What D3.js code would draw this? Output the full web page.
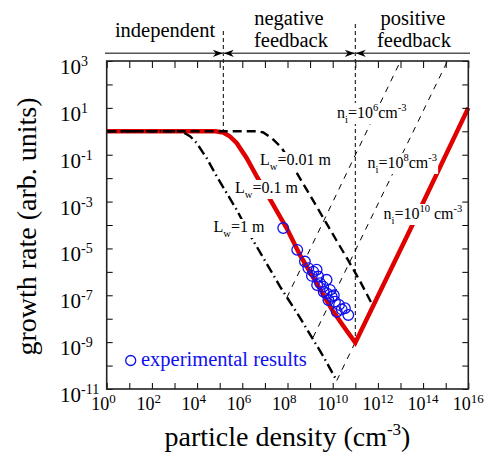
<!DOCTYPE html>
<html><head><meta charset="utf-8">
<script src="https://cdn.jsdelivr.net/npm/d3@7"></script>
<style>
body{margin:0;background:#fff}
svg{display:block}
text{font-family:"Liberation Serif","Times New Roman",serif;fill:#000}
</style>
</head><body>
<svg id="c" width="492" height="458"></svg>
<script>
// ---------- data (log10 values) ----------
const xTickExps  = d3.range(0, 17);            // 10^0 .. 10^16
const xLabelExps = [0, 2, 4, 6, 8, 10, 12, 14, 16];
const yTickExps  = d3.range(-11, 4);            // 10^-11 .. 10^3
const yLabelExps = [3, 1, -1, -3, -5, -7, -9, -11];

// thick red curve (L_w = 0.1 m combined with n_i = 10^10)
const redLogN = [0, 4.8, 5.16, 5.45, 5.75, 6.19, 6.64, 7.30, 8.0, 8.56, 9.3, 9.96, 10.5, 11.0, 13.5, 16.0];
const redLogG = [0, 0, -0.05, -0.22, -0.5, -1.14, -1.93, -3.02, -4.2, -5.3, -6.5, -7.6, -8.35, -9.02, -4.05, 1.0];

// L_w = 0.01 m (dashed)
const lw001LogN = [0, 6.7, 6.93, 7.30, 7.74, 8.41, 9.13, 9.66, 10.15, 10.65, 11.2, 11.75];
const lw001LogG = [0, 0, -0.05, -0.29, -0.7, -1.78, -2.95, -3.82, -4.63, -5.45, -6.38, -7.4];

// L_w = 1 m (dash-dot)
const lw1LogN = [0, 3.2, 3.39, 3.7, 3.98, 4.42, 4.87, 5.75, 6.42, 7.67, 8.55, 9.58, 10.18];
const lw1LogG = [0, 0, -0.05, -0.22, -0.5, -1.14, -1.93, -3.35, -4.56, -6.63, -7.95, -9.6, -10.65];

// n_i positive-feedback lines (thin dashed)
const ni6LogN  = [7.97, 13.0];  const ni6LogG  = [-7.1, 3.0];
const ni8LogN  = [9.13, 15.08]; const ni8LogG  = [-8.8, 3.0];
const ni10LogN = [10.18, 16.0]; const ni10LogG = [-10.64, 1.0];

// experimental results (open circles)
const expLogN = [7.81, 8.43, 8.77, 8.92, 9.14, 9.29, 9.08, 9.36, 9.73, 9.44, 9.58, 9.31, 9.88, 9.73, 9.96, 9.81, 10.10, 10.28, 10.18, 10.54, 10.69, 9.60, 10.05, 10.40];
const expLogG = [-4.13, -5.06, -5.56, -5.84, -5.99, -5.91, -6.17, -6.20, -6.34, -6.48, -6.63, -6.56, -6.77, -6.91, -7.06, -7.20, -7.27, -7.41, -7.70, -7.55, -7.84, -6.85, -7.0, -7.6];

// region boundaries on top
const boundaryLogN = [5.16, 11.0];
const boundaryLogG = [0, -9.02];

// ---------- layout ----------
const svg = d3.select('#c');
const X0 = 106.7, X1 = 468.3, Y0 = 389, Y1 = 61;
const x = d3.scaleLog().domain([1, 1e16]).range([X0, X1]);
const y = d3.scaleLog().domain([1e-11, 1e3]).range([Y0, Y1]);
const p10 = e => Math.pow(10, e);
const pts = (ns, gs) => ns.map((n, i) => [p10(n), p10(gs[i])]);
const line = d3.line().x(d => x(d[0])).y(d => y(d[1]));

// ---------- thin n_i lines ----------
[[ni6LogN, ni6LogG], [ni8LogN, ni8LogG], [ni10LogN, ni10LogG]].forEach(([ns, gs]) => {
  svg.append('path').attr('d', line(pts(ns, gs)))
    .attr('fill', 'none').attr('stroke', '#000').attr('stroke-width', 1)
    .attr('stroke-dasharray', '6,6');
});

// ---------- vertical boundary dashed lines ----------
const bTop = [31, 24];
boundaryLogN.forEach((n, i) => {
  svg.append('line')
    .attr('x1', x(p10(n))).attr('x2', x(p10(n)))
    .attr('y1', bTop[i]).attr('y2', y(p10(boundaryLogG[i])))
    .attr('stroke', '#000').attr('stroke-width', 1).attr('stroke-dasharray', '4,3');
});

// ---------- red curve ----------
svg.append('path').attr('d', line(pts(redLogN, redLogG)))
  .attr('fill', 'none').attr('stroke', '#e00000').attr('stroke-width', 4.5)
  .attr('stroke-linejoin', 'miter');

// ---------- black curves ----------
svg.append('path').attr('d', line(pts(lw001LogN, lw001LogG)))
  .attr('fill', 'none').attr('stroke', '#000').attr('stroke-width', 2.4)
  .attr('stroke-dasharray', '9,5');
svg.append('path').attr('d', line(pts(lw1LogN, lw1LogG)))
  .attr('fill', 'none').attr('stroke', '#000').attr('stroke-width', 2.4)
  .attr('stroke-dasharray', '10,4,1.5,4');

// ---------- experimental circles ----------
svg.append('g').selectAll('circle').data(pts(expLogN, expLogG)).join('circle')
  .attr('cx', d => x(d[0])).attr('cy', d => y(d[1])).attr('r', 5.3)
  .attr('fill', 'none').attr('stroke', '#1010ee').attr('stroke-width', 1.3);

// ---------- labels with white background ----------
function richLabel(px, py, parts, size) {
  const t = svg.append('text').attr('x', px).attr('y', py).attr('font-size', size);
  let shift = 0;
  parts.forEach(([s, kind]) => {
    let target = kind === 'sub' ? 5 : kind === 'sup' ? -7 : 0;
    t.append('tspan').text(s).attr('dy', target - shift)
      .attr('font-size', kind ? size * 0.66 : size);
    shift = target;
  });
  const bb = t.node().getBBox();
  svg.insert('rect', () => t.node())
    .attr('x', bb.x - 1).attr('y', bb.y + 1).attr('width', bb.width + 2).attr('height', bb.height - 2)
    .attr('fill', '#fff');
  return t;
}
richLabel(260, 165, [['L'], ['w', 'sub'], ['=0.01 m']], 16);
richLabel(235, 193, [['L'], ['w', 'sub'], ['=0.1 m']], 16);
richLabel(213.5, 232, [['L'], ['w', 'sub'], ['=1 m']], 16);
richLabel(337, 118, [['n'], ['i', 'sub'], ['=10'], ['6', 'sup'], ['cm'], ['-3', 'sup']], 16);
richLabel(367.5, 168, [['n'], ['i', 'sub'], ['=10'], ['8', 'sup'], ['cm'], ['-3', 'sup']], 16);
richLabel(383.5, 219, [['n'], ['i', 'sub'], ['=10'], ['10', 'sup'], [' cm'], ['-3', 'sup']], 16);

// legend
svg.append('circle').attr('cx', 130.7).attr('cy', 360.5).attr('r', 5)
  .attr('fill', 'none').attr('stroke', '#1010ee').attr('stroke-width', 1.3);
svg.append('text').attr('x', 141).attr('y', 366).attr('font-size', 20.5)
  .style('fill', '#1010ee').text('experimental results');

// ---------- frame & axes ----------
const xTickVals = xTickExps.map(p10), yTickVals = yTickExps.map(p10);
const strip = g => g.select('.domain').remove();
svg.append('g').attr('transform', `translate(0,${Y0})`)
  .call(d3.axisBottom(x).tickValues(xTickVals).tickSizeInner(-6).tickSizeOuter(0).tickFormat(''))
  .call(strip);
svg.append('g').attr('transform', `translate(0,${Y1})`)
  .call(d3.axisTop(x).tickValues(xTickVals).tickSizeInner(-7).tickSizeOuter(0).tickFormat(''))
  .call(strip);
svg.append('g').attr('transform', `translate(${X0},0)`)
  .call(d3.axisLeft(y).tickValues(yTickVals).tickSizeInner(-6).tickSizeOuter(0).tickFormat(''))
  .call(strip);
svg.append('g').attr('transform', `translate(${X1},0)`)
  .call(d3.axisRight(y).tickValues(yTickVals).tickSizeInner(-6).tickSizeOuter(0).tickFormat(''))
  .call(strip);
svg.selectAll('.tick line').attr('stroke', '#000').attr('stroke-width', 1);
svg.append('rect').attr('x', X0).attr('y', Y1).attr('width', X1 - X0).attr('height', Y0 - Y1)
  .attr('fill', 'none').attr('stroke', '#222').attr('stroke-width', 1.6);

// x tick labels
xLabelExps.forEach(e => {
  const t = svg.append('text').attr('x', x(p10(e)) - 15.5).attr('y', 410).attr('font-size', 18);
  t.append('tspan').text('10');
  t.append('tspan').text(String(e)).attr('dy', -7).attr('font-size', 13);
});
// y tick labels
yLabelExps.forEach(e => {
  const t = svg.append('text').attr('x', 60).attr('y', y(p10(e)) + 13).attr('font-size', 21);
  t.append('tspan').text('10');
  t.append('tspan').text(String(e)).attr('dy', -8).attr('font-size', 14);
});

// axis titles
const xt = svg.append('text').attr('x', 287.5).attr('y', 446).attr('font-size', 28).attr('text-anchor', 'middle');
xt.append('tspan').text('particle density (cm');
xt.append('tspan').text('-3').attr('dy', -11).attr('font-size', 17);
xt.append('tspan').text(')').attr('dy', 11);
svg.append('text').attr('transform', 'translate(36,226.5) rotate(-90)')
  .attr('font-size', 28).attr('text-anchor', 'middle').text('growth rate (arb. units)');

// ---------- top region header ----------
svg.append('line').attr('x1', 105).attr('x2', 470).attr('y1', 53.3).attr('y2', 53.3)
  .attr('stroke', '#555').attr('stroke-width', 1.4);
function arrowHead(tipX, dir) {
  const L = 10, W = 3.6, N = 7;
  svg.append('path')
    .attr('d', `M${tipX},53.3 L${tipX - dir * L},${53.3 - W} L${tipX - dir * N},53.3 L${tipX - dir * L},${53.3 + W} Z`)
    .attr('fill', '#000');
}
boundaryLogN.forEach(n => {
  const bx = x(p10(n));
  arrowHead(bx - 0.5, 1);
  arrowHead(bx + 0.5, -1);
});
const hdr = (tx, ty, s) => svg.append('text').attr('x', tx).attr('y', ty)
  .attr('font-size', 20.5).attr('text-anchor', 'middle').text(s);
hdr(165, 37, 'independent');
hdr(289, 25, 'negative');
hdr(291, 47, 'feedback');
hdr(413, 25, 'positive');
hdr(414, 47, 'feedback');
</script>
</body></html>
